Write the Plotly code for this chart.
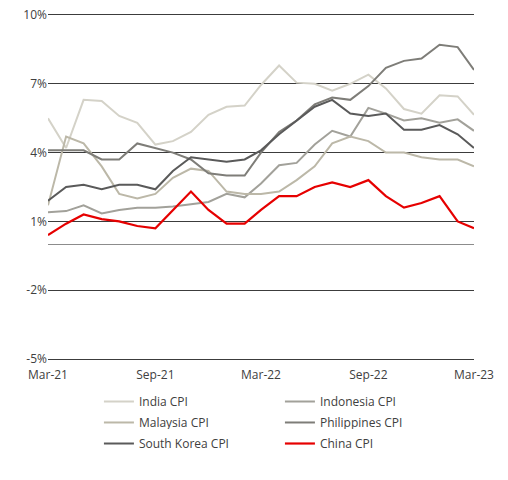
import plotly.graph_objects as go

months = ["2021-03-01", "2021-04-01", "2021-05-01", "2021-06-01", "2021-07-01",
          "2021-08-01", "2021-09-01", "2021-10-01", "2021-11-01", "2021-12-01",
          "2022-01-01", "2022-02-01", "2022-03-01", "2022-04-01", "2022-05-01",
          "2022-06-01", "2022-07-01", "2022-08-01", "2022-09-01", "2022-10-01",
          "2022-11-01", "2022-12-01", "2023-01-01", "2023-02-01", "2023-03-01"]

india = [5.5, 4.2, 6.3, 6.25, 5.6, 5.3, 4.35, 4.5, 4.9, 5.65, 6.0, 6.05, 6.95,
         7.8, 7.05, 7.0, 6.7, 7.0, 7.4, 6.8, 5.9, 5.7, 6.5, 6.45, 5.65]
indonesia = [1.4, 1.45, 1.7, 1.35, 1.5, 1.6, 1.6, 1.65, 1.75, 1.85, 2.2, 2.05, 2.65,
             3.45, 3.55, 4.35, 4.95, 4.7, 5.95, 5.7, 5.4, 5.5, 5.3, 5.45, 4.95]
malaysia = [1.7, 4.7, 4.4, 3.4, 2.2, 2.0, 2.2, 2.9, 3.3, 3.2, 2.3, 2.2, 2.2,
            2.3, 2.8, 3.4, 4.4, 4.7, 4.5, 4.0, 4.0, 3.8, 3.7, 3.7, 3.4]
philippines = [4.1, 4.1, 4.1, 3.7, 3.7, 4.4, 4.2, 4.0, 3.7, 3.1, 3.0, 3.0, 4.0,
               4.9, 5.4, 6.1, 6.4, 6.3, 6.9, 7.7, 8.0, 8.1, 8.7, 8.6, 7.6]
korea = [1.9, 2.5, 2.6, 2.4, 2.6, 2.6, 2.4, 3.2, 3.8, 3.7, 3.6, 3.7, 4.1,
         4.8, 5.4, 6.0, 6.3, 5.7, 5.6, 5.7, 5.0, 5.0, 5.2, 4.8, 4.2]
china = [0.4, 0.9, 1.3, 1.1, 1.0, 0.8, 0.7, 1.5, 2.3, 1.5, 0.9, 0.9, 1.5,
         2.1, 2.1, 2.5, 2.7, 2.5, 2.8, 2.1, 1.6, 1.8, 2.1, 1.0, 0.7]

# name, values, colour, width, legend row
series = [
    ("India CPI", india, "#d4d2c8", 2, "legend"),
    ("Indonesia CPI", indonesia, "#a2a19a", 2, "legend"),
    ("Malaysia CPI", malaysia, "#bcb8a8", 2, "legend2"),
    ("Philippines CPI", philippines, "#7e7d78", 2, "legend2"),
    ("South Korea CPI", korea, "#5a5a5a", 2, "legend3"),
    ("China CPI", china, "#e60000", 2.2, "legend3"),
]

x_ticks = ["2021-03-01", "2021-09-01", "2022-03-01", "2022-09-01", "2023-03-01"]
x_labels = ["Mar-21", "Sep-21", "Mar-22", "Sep-22", "Mar-23"]
y_ticks = [-5, -2, 1, 4, 7, 10]
y_labels = ["-5%", "-2%", "1%", "4%", "7%", "10%"]

fig = go.Figure()
for name, vals, col, w, leg in series:
    fig.add_trace(go.Scatter(x=months, y=vals, name=name, mode="lines",
                             line=dict(color=col, width=w), legend=leg))

def legend_row(y):
    return dict(orientation="h", xref="container", yref="container",
                x=0.179, y=y, xanchor="left", yanchor="top",
                entrywidth=136, entrywidthmode="pixels", traceorder="normal",
                font=dict(size=12, color="#404040"), itemwidth=30)

fig.update_layout(
    width=508, height=480,
    margin=dict(l=40, r=42, t=7, b=129, autoexpand=False),
    plot_bgcolor="white", paper_bgcolor="white",
    font=dict(family="Open Sans", size=12, color="#404040"),
    showlegend=True,
    legend=legend_row(0.2104),
    legend2=legend_row(0.1667),
    legend3=legend_row(0.1229),
    xaxis=dict(range=["2021-03-01", "2023-03-01"], tickvals=x_ticks, ticktext=x_labels,
               showgrid=False, zeroline=False, ticks="",
               showline=True, mirror=True, linecolor="#3c3c3c", linewidth=1.2,
               ticklabelstandoff=4, ticklabeloverflow="allow",
               tickfont=dict(size=12)),
    yaxis=dict(range=[-5, 10], tickvals=y_ticks, ticktext=y_labels,
               showgrid=True, gridcolor="#3c3c3c", gridwidth=1.2,
               zeroline=True, zerolinecolor="#8c8c8c", zerolinewidth=1.2,
               showline=False, ticks="", ticklen=0, ticklabeloverflow="allow",
               tickfont=dict(size=12)),
)

fig.write_html("out.html")
